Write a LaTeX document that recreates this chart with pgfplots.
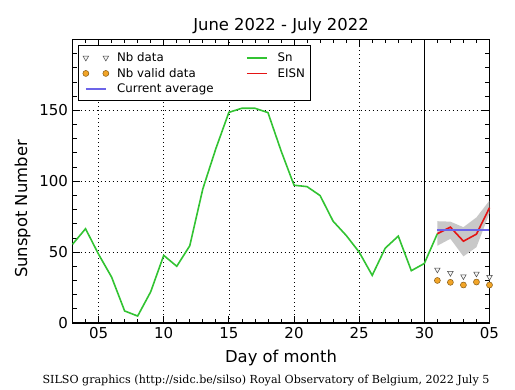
\documentclass[border=0pt]{standalone}
\usepackage{pgfplots}
\pgfplotsset{compat=1.18}
\usepackage{fontspec}
\setmainfont{DejaVu Sans}
\newfontfamily\serifnote{DejaVu Serif}
\definecolor{sngreen}{RGB}{50,195,50}
\definecolor{eisnred}{RGB}{228,20,20}
\definecolor{avgblue}{RGB}{108,100,232}
\definecolor{nbor}{RGB}{242,165,40}
\definecolor{bandgray}{RGB}{200,200,200}
\begin{document}
\begin{tikzpicture}[x=1pt,y=1pt]
\useasboundingbox (0,0) rectangle (515,390);
\begin{axis}[
  at={(72.5pt,67pt)}, anchor=south west,
  scale only axis, width=417pt, height=283.5pt,
  xmin=3, xmax=35, ymin=0, ymax=200,
  xtick={5,10,15,20,25,30,35},
  xticklabels={05,10,15,20,25,30,05},
  minor xtick={3,4,...,35},
  ytick={0,50,100,150},
  minor ytick={10,20,...,190},
  tick align=inside,
  major tick length=7pt, minor tick length=4pt,
  tick style={black, line width=0.8pt},
  axis line style={line width=1.2pt},
  grid=major,
  major grid style={black, line width=0.7pt, dash pattern=on 1pt off 3pt},
  /pgf/number format/assume math mode=true,
  ticklabel style={font=\fontsize{15}{18}\selectfont},
  xticklabel style={yshift=-1pt},
  yticklabel style={xshift=-1pt},
  legend columns=2,
  legend cell align=left,
  legend image code/.code={\draw[#1] plot coordinates {(0.5pt,0pt) (20.5pt,0pt)}; \path (28.5pt,0pt);},
  legend style={at={(0.014,0.979)}, anchor=north west, draw=black, line width=1pt,
    font=\fontsize{11.8}{14}\selectfont, inner xsep=4pt, inner ysep=4pt,
    nodes={inner xsep=2pt, inner ysep=2.6pt}},
  clip=false,
]
% legend images, in row order
\addlegendimage{only marks, mark=triangle*, mark size=3.2pt,
  mark options={rotate=180, fill=white!92!gray, draw=gray!55!black, line width=0.5pt}}
\addlegendentry{\makebox[127pt][l]{Nb data}}
\addlegendimage{sngreen, line width=1.6pt, mark=none}
\addlegendentry{Sn}
\addlegendimage{only marks, mark=*, mark size=3pt,
  mark options={fill=nbor, draw=nbor!55!black, line width=0.5pt}}
\addlegendentry{\makebox[127pt][l]{Nb valid data}}
\addlegendimage{eisnred, line width=1.6pt, mark=none}
\addlegendentry{EISN}
\addlegendimage{avgblue, line width=2.6pt, mark=none}
\addlegendentry{\makebox[127pt][l]{Current average}}
% gray uncertainty band
\addplot[fill=bandgray, draw=none, forget plot] coordinates {
  (31,71.8) (32,71.5) (33,67.6) (34,74.5) (35,86.4)
  (35,77.5) (34,53.5) (33,47) (32,59.4) (31,54.5) } -- cycle;
% vertical separator
\addplot[black, line width=1.2pt, forget plot] coordinates {(30,0) (30,200)};
% Nb data
\addplot[only marks, mark=triangle*, mark size=3.2pt, forget plot,
  mark options={rotate=180, fill=white!92!gray, draw=gray!55!black, line width=0.5pt}]
  coordinates {(31,37.6) (32,35.2) (33,32.9) (34,34.8) (35,32.4)};
% Sn
\addplot[sngreen, line width=1.6pt, mark=none, forget plot]
  coordinates {
  (3,55.5) (4,66.5) (5,48.5) (6,32.4) (7,8.5) (8,4.9) (9,22) (10,47.7)
  (11,40) (12,54.5) (13,94.6) (14,123) (15,148.6) (16,151.5) (17,151.5)
  (18,148.4) (19,121.6) (20,97.2) (21,96.2) (22,89.9) (23,71.8) (24,61.8)
  (25,50) (26,33.6) (27,52.8) (28,61.3) (29,36.9) (30,42) (31,63)};
% Nb valid data
\addplot[only marks, mark=*, mark size=3pt, forget plot,
  mark options={fill=nbor, draw=nbor!55!black, line width=0.5pt}]
  coordinates {(31,30) (32,28.7) (33,26.8) (34,28.9) (35,26.8)};
% EISN
\addplot[eisnred, line width=1.6pt, mark=none, forget plot]
  coordinates {(31,63) (32,67.6) (33,57.7) (34,62.7) (35,81.3)};
% Current average
\addplot[avgblue, line width=2.6pt, mark=none, forget plot]
  coordinates {(31,65.7) (35,65.7)};
\end{axis}
\node[anchor=base, font=\fontsize{16.4}{19}\selectfont] at (281,359) {June 2022 - July 2022};
\node[anchor=base, font=\fontsize{16.4}{19}\selectfont] at (281,27.7) {Day of month};
\node[anchor=base, rotate=90, font=\fontsize{16.4}{19}\selectfont] at (27,181) {Sunspot Number};
\node[anchor=base, font=\serifnote\fontsize{11.1}{13}\selectfont] at (266,6) {SILSO graphics (http://sidc.be/silso) Royal Observatory of Belgium, 2022 July 5};
\end{tikzpicture}
\end{document}
